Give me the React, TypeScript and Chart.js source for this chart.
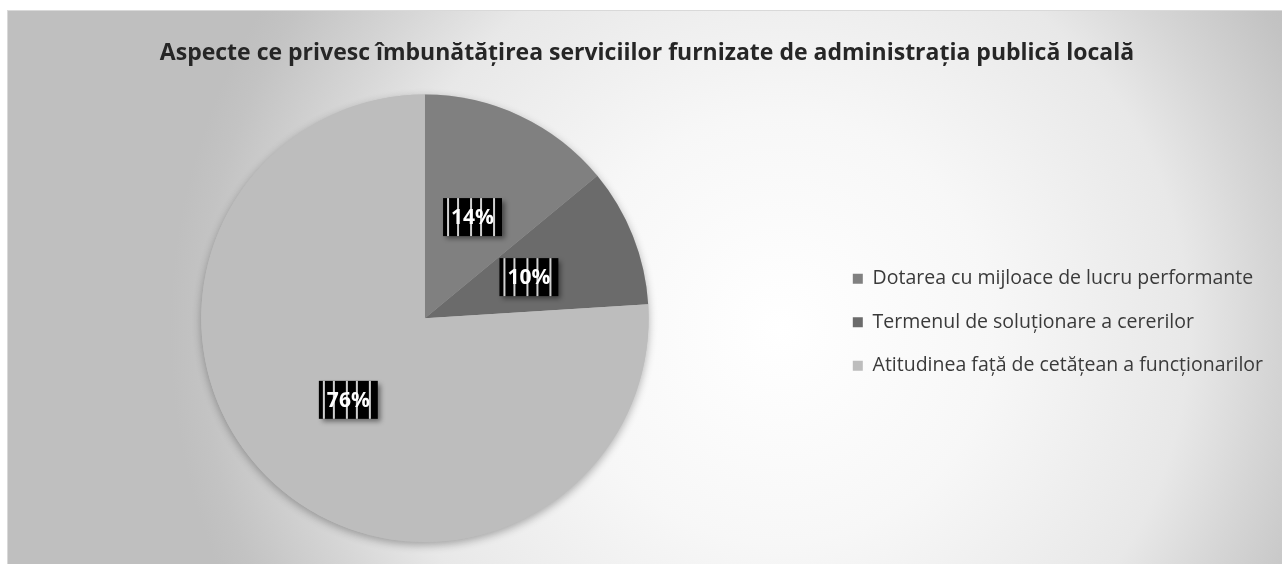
import React, { useEffect, useRef } from "react";
import { Chart, registerables } from "chart.js";

Chart.register(...registerables);

const categories = [
  "Dotarea cu mijloace de lucru performante",
  "Termenul de soluționare a cererilor",
  "Atitudinea față de cetățean a funcționarilor",
];
const values = [14, 10, 76];
const sliceColors = ["#808080", "#6b6b6b", "#bdbdbd"];
const titleText =
  "Aspecte ce privesc îmbunătățirea serviciilor furnizate de administrația publică locală";

const bgPlugin = {
  id: "bgGradient",
  beforeDraw(chart: any) {
    const { ctx, width, height } = chart;
    ctx.save();
    const g = ctx.createRadialGradient(772, 319, 0, 772, 319, 610);
    g.addColorStop(0, "#ffffff");
    g.addColorStop(0.35, "#f7f7f7");
    g.addColorStop(0.67, "#e8e8e8");
    g.addColorStop(0.8, "#d6d6d6");
    g.addColorStop(0.95, "#c3c3c3");
    g.addColorStop(1, "#bfbfbf");
    ctx.fillStyle = g;
    ctx.fillRect(0, 0, width, height);
    ctx.restore();
  },
};

const shadowPlugin = {
  id: "pieShadow",
  beforeDatasetsDraw(chart: any) {
    const meta = chart.getDatasetMeta(0);
    const arc = meta.data[0];
    if (!arc) return;
    const { x, y, outerRadius } = arc.getProps(["x", "y", "outerRadius"], true);
    const ctx = chart.ctx;
    ctx.save();
    ctx.shadowColor = "rgba(0,0,0,0.3)";
    ctx.shadowBlur = 8;
    ctx.shadowOffsetY = 3;
    ctx.beginPath();
    ctx.arc(x, y, outerRadius, 0, Math.PI * 2);
    ctx.fillStyle = "#bdbdbd";
    ctx.fill();
    ctx.restore();
  },
};

const stripes = [4, 13, 25, 37, 49];

const labelPlugin = {
  id: "boxLabels",
  afterDatasetsDraw(chart: any) {
    const ctx = chart.ctx;
    const meta = chart.getDatasetMeta(0);
    meta.data.forEach((arc: any, i: number) => {
      const p = arc.tooltipPosition(true);
      const text = values[i] + "%";
      ctx.save();
      ctx.font = "bold 21px 'Open Sans'";
      const tw = ctx.measureText(text).width;
      const w = Math.max(58, tw + 16);
      const h = 38;
      const bx = p.x - w / 2;
      const by = p.y - h / 2;
      ctx.shadowColor = "rgba(0,0,0,0.45)";
      ctx.shadowBlur = 5;
      ctx.shadowOffsetX = 3;
      ctx.shadowOffsetY = 3;
      ctx.fillStyle = "#000000";
      ctx.fillRect(bx, by, w, h);
      ctx.shadowColor = "transparent";
      ctx.fillStyle = "#d0d0d0";
      stripes.forEach((s, k) => {
        const sx = bx + s + ((i * 3 + k) % 3);
        if (sx < bx + w - 2) ctx.fillRect(sx, by, 2, h);
      });
      ctx.fillStyle = "#ffffff";
      ctx.textAlign = "center";
      ctx.textBaseline = "middle";
      ctx.fillText(text, p.x, p.y + 1);
      ctx.restore();
    });
  },
};

export default function App() {
  const ref = useRef<HTMLCanvasElement>(null);
  useEffect(() => {
    if (!ref.current) return;
    const chart = new Chart(ref.current, {
      type: "pie",
      data: {
        labels: categories,
        datasets: [
          {
            data: values,
            backgroundColor: sliceColors,
            borderWidth: 0,
          },
        ],
      },
      options: {
        animation: false,
        responsive: true,
        maintainAspectRatio: false,
        layout: { padding: { left: 13, right: 9, top: 0, bottom: 22 } },
        plugins: {
          title: {
            display: true,
            text: titleText,
            color: "#262626",
            font: { family: "'Open Sans'", size: 23, weight: "bold" },
            padding: { top: 29, bottom: 27 },
          },
          legend: {
            position: "right",
            fullSize: false,
            title: {
              display: true,
              text: " ",
              font: { size: 5, lineHeight: 1.2 },
              padding: { top: 1, bottom: 1 },
            },
            labels: {
              boxWidth: 10,
              boxHeight: 10,
              padding: 24,
              color: "#3a3a3a",
              font: { family: "'Open Sans'", size: 19.5 },
            },
          },
          tooltip: { enabled: false },
        },
      },
      plugins: [bgPlugin, shadowPlugin, labelPlugin],
    });
    return () => chart.destroy();
  }, []);
  return (
    <div
      style={{
        position: "absolute",
        left: 7,
        top: 10,
        width: 1275,
        height: 554,
        boxSizing: "border-box",
        borderTop: "1px solid #d9d9d9",
        borderLeft: "1px solid #d9d9d9",
      }}
    >
      <div style={{ position: "relative", width: 1274, height: 553 }}>
        <canvas ref={ref} />
      </div>
    </div>
  );
}
